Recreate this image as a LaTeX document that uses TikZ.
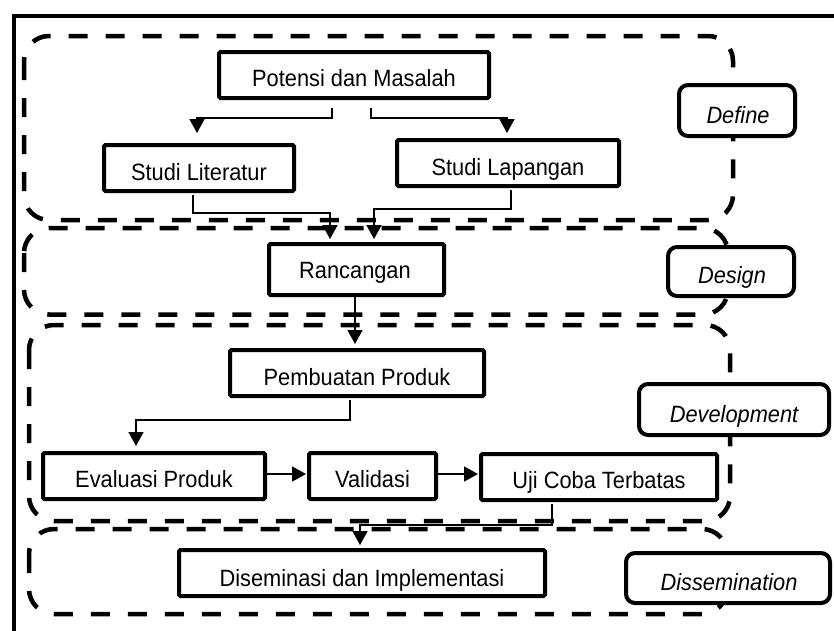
\documentclass[tikz,border=0pt]{standalone}
\usepackage{fontspec}
\setmainfont{Liberation Sans}
\usetikzlibrary{arrows.meta,calc}
\newcommand{\stretchtxt}[1]{\scalebox{1}[1.08]{#1}}
\begin{document}
\begin{tikzpicture}[x={(1pt,0)},y={(0,-1pt)},
  frame/.style={line width=4pt},
  phase/.style={line width=4.5pt,dash pattern=on 19pt off 18pt,rounded corners=25pt},
  box/.style={draw,line width=4pt,fill=white,inner sep=0pt,rounded corners=1.5pt},
  tag/.style={draw,line width=4pt,fill=white,inner sep=0pt,rounded corners=9pt},
  txt/.style={anchor=base,inner sep=0pt,font=\fontsize{21.8}{26}\selectfont},
  itxt/.style={txt,font=\fontsize{21.8}{26}\selectfont\itshape},
  arr/.style={line width=1.6pt,-{Triangle[length=14pt,width=15pt]}}]
\useasboundingbox (0,0) rectangle (834,630);
\fill[white] (0,0) rectangle (834,630);
% outer frame
\draw[frame] (840,16) -| (13.5,640);
% phase regions
\draw[phase] (24,36) rectangle (733,220);
\draw[phase] (24,228) rectangle (728,314.5);
\draw[phase] (29,325) rectangle (730,521);
\draw[phase] (29,529) rectangle (727,614);
% boxes
\node[box,minimum width=270pt,minimum height=46pt] (pot) at (354,75) {};
\node[box,minimum width=190pt,minimum height=46pt] (lit) at (199,168) {};
\node[box,minimum width=222pt,minimum height=46pt] (lap) at (508,163) {};
\node[box,minimum width=175pt,minimum height=51pt] (ran) at (356.5,269.5) {};
\node[box,minimum width=254pt,minimum height=46pt] (pem) at (357,373) {};
\node[box,minimum width=222pt,minimum height=46pt] (eva) at (154,476) {};
\node[box,minimum width=127pt,minimum height=46pt] (val) at (372.5,476) {};
\node[box,minimum width=236pt,minimum height=46pt] (uji) at (599,477) {};
\node[box,minimum width=366pt,minimum height=46pt] (dis) at (362,573) {};
% phase tags
\node[tag,minimum width=116pt,minimum height=51pt] (tdef) at (737,110.5) {};
\node[tag,minimum width=126pt,minimum height=49pt] (tdes) at (731,271.5) {};
\node[tag,minimum width=190pt,minimum height=51pt] (tdev) at (734,409.5) {};
\node[tag,minimum width=204pt,minimum height=50pt] (tdis) at (728,578) {};
% texts
\node[txt] (potT) at (354,86) {\stretchtxt{Potensi dan Masalah}};
\node[txt] (litT) at (199,180) {\stretchtxt{Studi Literatur}};
\node[txt] (lapT) at (508,175) {\stretchtxt{Studi Lapangan}};
\node[txt] (ranT) at (355,278) {\stretchtxt{Rancangan}};
\node[txt] (pemT) at (357,385) {\stretchtxt{Pembuatan Produk}};
\node[txt] (evaT) at (154,487) {\stretchtxt{Evaluasi Produk}};
\node[txt] (valT) at (372.5,487) {\stretchtxt{Validasi}};
\node[txt] (ujiT) at (599,488) {\stretchtxt{Uji Coba Terbatas}};
\node[txt] (disT) at (362,586) {\stretchtxt{Diseminasi dan Implementasi}};
\node[itxt] (defT) at (738,123) {\stretchtxt{Define}};
\node[itxt] (desT) at (732,283) {\stretchtxt{Design}};
\node[itxt] (devT) at (734,422) {\stretchtxt{Development}};
\node[itxt] (dssT) at (729,590) {\stretchtxt{Dissemination}};
% connectors
\draw[arr,shorten >=10pt] ($(pot.south)+(-22,8)$) -- ++(0,10) -| ($(lit.north)+(-2,0)$);
\draw[arr,shorten >=5pt] ($(pot.south)+(17,8)$) -- ++(0,10) -| ($(lap.north)+(-1,0)$);
\draw[arr,shorten >=3pt] ($(lit.south)+(-6,2)$) -- ++(0,18) -| ($(ran.north)+(-26.5,0)$);
\draw[arr,shorten >=3pt] ($(lap.south)+(3,2)$) -- ++(0,19) -| ($(ran.north)+(17.5,0)$);
\draw[arr,shorten >=4pt] ($(ran.south)+(-1.5,0)$) -- ($(pem.north)+(-2,0)$);
\draw[arr,shorten >=5pt] ($(pem.south)+(-7,2)$) -- ++(0,20) -| ($(eva.north)+(-18,0)$);
\draw[arr,shorten >=1pt] ($(eva.east)+(0,-2)$) -- ($(val.west)+(0,-2)$);
\draw[arr,shorten >=1pt] ($(val.east)+(0,-2)$) -- ($(uji.west)+(0,-3)$);
\draw[arr,shorten >=3pt] ($(uji.south)+(-47,2)$) -- ++(0,21) -| ($(dis.north)+(-2,0)$);
\end{tikzpicture}
\end{document}
